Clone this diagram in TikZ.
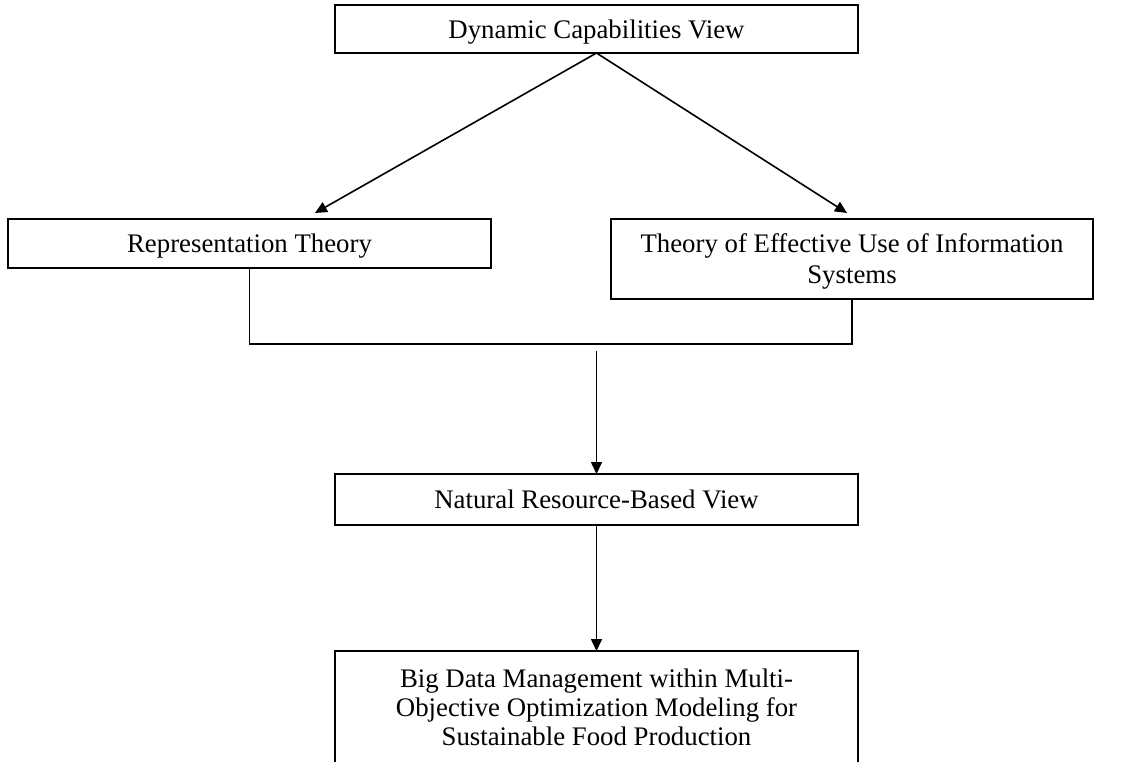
\documentclass[tikz,border=0pt]{standalone}
\usepackage{fontspec}
\setmainfont{Liberation Serif}
\usetikzlibrary{positioning, arrows.meta, calc}

\begin{document}
\begin{tikzpicture}[x=0.5pt,y=-0.5pt,on grid,line width=0.8pt,
    theory/.style={draw,rectangle,inner sep=0pt,outer sep=0pt,align=center,text depth=0pt,
      font=\fontsize{13.4}{15.5}\selectfont,minimum width=261.5pt,minimum height=24pt},
    link/.style={-{Triangle[length=6pt,width=5.5pt]}}]
      \useasboundingbox (0,0) rectangle (1123,761);
      \node[theory] (dcv) at (596.5,29) {Dynamic Capabilities View};
      \node[theory,minimum width=241.5pt,minimum height=24.5pt] (rt) [below left=107.25pt and 173.5pt of dcv] {Representation Theory};
      \node[theory,minimum width=241pt,minimum height=40pt] (teu) [below right=115pt and 127.75pt of dcv] {Theory of Effective Use of Information\\Systems};
      \node[theory,minimum height=25.5pt] (nrbv) [below=235.25pt of dcv] {Natural Resource-Based View};
      \node[theory,minimum height=56pt,font=\fontsize{13.4}{14.5}\selectfont] (bdm) [below=103.75pt of nrbv] {Big Data Management within Multi-\\Objective Optimization Modeling for\\Sustainable Food Production};
      \coordinate (join) at ($(teu.south)+(0,45)$);
      \coordinate (merge) at ($(dcv.south |- join)+(0,7)$);
      \draw[link] (dcv.south) -- ($(rt.north)+(65.5,-6)$);
      \draw[link] (dcv.south) -- ($(teu.north)+(-5,-6)$);
      \draw (rt.south) |- (join) -- (teu.south);
      \draw[link] (merge) -- (nrbv.north);
      \draw[link] (nrbv.south) -- (bdm.north);
    \end{tikzpicture}
\end{document}
